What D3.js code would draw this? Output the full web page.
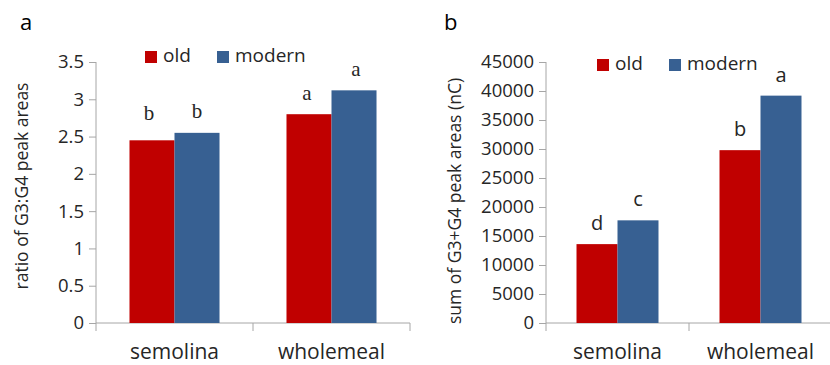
<!DOCTYPE html>
<html><head><meta charset="utf-8">
<script src="https://cdn.jsdelivr.net/npm/d3@7/dist/d3.min.js"></script>
<style>body{margin:0;background:#fff}svg{display:block}</style>
</head><body><svg id="c" width="830" height="365"></svg>
<script>
const categories = ["semolina", "wholemeal"];
const series = ["old", "modern"];
const colors = ["#C00000", "#376092"];
const ratioOld = [2.45, 2.80];
const ratioModern = [2.55, 3.12];
const ratioLetters = [["b", "b"], ["a", "a"]];
const ratioTicks = [0, 0.5, 1, 1.5, 2, 2.5, 3, 3.5];
const sumOld = [13600, 29800];
const sumModern = [17700, 39200];
const sumLetters = [["d", "c"], ["b", "a"]];
const sumTicks = [0, 5000, 10000, 15000, 20000, 25000, 30000, 35000, 40000, 45000];

const svg = d3.select("#c");
const FONT = "'Open Sans', sans-serif";
const AX = "#A6A6A6";
const TXT = "#262626";

function panel(o) {
  const g = svg.append("g");
  const y = d3.scaleLinear().domain([0, o.ticks[o.ticks.length - 1]]).range([323, 62]);
  const x0 = d3.scaleBand().domain(categories).range([o.left, o.right]).padding(0);
  const x1 = d3.scaleBand().domain(series).range([0, x0.bandwidth()]).paddingInner(0).paddingOuter(0.744);
  const ya = d3.axisLeft(y).tickValues(o.ticks).tickSize(7).tickPadding(5).tickFormat(d => String(d));
  const yg = g.append("g").attr("transform", `translate(${o.left},0)`).call(ya);
  yg.select(".domain").remove();
  yg.selectAll(".tick line").attr("stroke", AX);
  yg.selectAll(".tick text").attr("font-family", FONT).attr("font-size", 18.5).attr("fill", TXT);
  g.append("line").attr("x1", o.left).attr("x2", o.left).attr("y1", 62).attr("y2", 331).attr("stroke", AX);
  g.append("line").attr("x1", o.left).attr("x2", Math.min(o.right, 830)).attr("y1", 323).attr("y2", 323).attr("stroke", AX);
  const bounds = [x0(categories[1]), o.right].filter(d => d <= 830);
  g.selectAll(".xt").data(bounds).join("line")
    .attr("x1", d => d).attr("x2", d => d).attr("y1", 323).attr("y2", 331).attr("stroke", AX);
  g.selectAll(".xl").data(categories).join("text")
    .attr("x", d => x0(d) + x0.bandwidth() / 2 + o.labelShift).attr("y", 359)
    .attr("text-anchor", "middle").attr("font-family", FONT).attr("font-size", 21).attr("fill", TXT).text(d => d);
  const vals = [o.old, o.modern];
  categories.forEach((c, i) => {
    series.forEach((s, j) => {
      const v = vals[j][i];
      g.append("rect").attr("x", x0(c) + x1(s)).attr("width", x1.bandwidth())
        .attr("y", y(v)).attr("height", y(0) - y(v)).attr("fill", colors[j]);
      g.append("text").attr("x", x0(c) + x1(s) + x1.bandwidth() / 2 + o.letterDx[i][j])
        .attr("y", y(v) - o.letterGap[i][j]).attr("text-anchor", "middle")
        .attr("font-family", o.letterFont).attr("font-size", o.letterSize).attr("fill", TXT)
        .text(o.letters[i][j]);
    });
  });
  series.forEach((s, j) => {
    const lx = o.legX[j];
    g.append("rect").attr("x", lx).attr("y", o.legY - 11).attr("width", 12).attr("height", 12).attr("fill", colors[j]);
    g.append("text").attr("x", lx + 18).attr("y", o.legY).attr("font-family", FONT).attr("font-size", 19)
      .attr("fill", TXT).text(s);
  });
  g.append("text").attr("transform", `translate(${o.titleX},${o.titleY}) rotate(-90)`)
    .attr("text-anchor", "middle").attr("font-family", FONT).attr("font-size", o.titleSize).attr("fill", TXT).text(o.title);
  g.append("text").attr("x", o.panelX).attr("y", 30).attr("font-family", FONT).attr("font-size", 22)
    .attr("fill", "#000").text(o.panelLetter);
}

panel({
  left: 96, right: 410, ticks: ratioTicks, old: ratioOld, modern: ratioModern,
  letters: ratioLetters, letterFont: "'Liberation Serif', serif", letterSize: 21,
  letterDx: [[-3, 0], [-2, 2]], letterGap: [[20, 15], [14, 14]], labelShift: 0,
  legX: [145, 217], legY: 62, title: "ratio of G3:G4 peak areas", titleSize: 17.5, titleX: 28, titleY: 186,
  panelX: 20, panelLetter: "a"
});
panel({
  left: 546, right: 832, ticks: sumTicks, old: sumOld, modern: sumModern,
  letters: sumLetters, letterFont: FONT, letterSize: 20,
  letterDx: [[0, 0], [0, 0]], letterGap: [[14, 14], [14, 14]], labelShift: 0,
  legX: [597, 669], legY: 70, title: "sum of G3+G4 peak areas (nC)", titleSize: 17.5, titleX: 461, titleY: 201,
  panelX: 444, panelLetter: "b"
});
</script></body></html>
